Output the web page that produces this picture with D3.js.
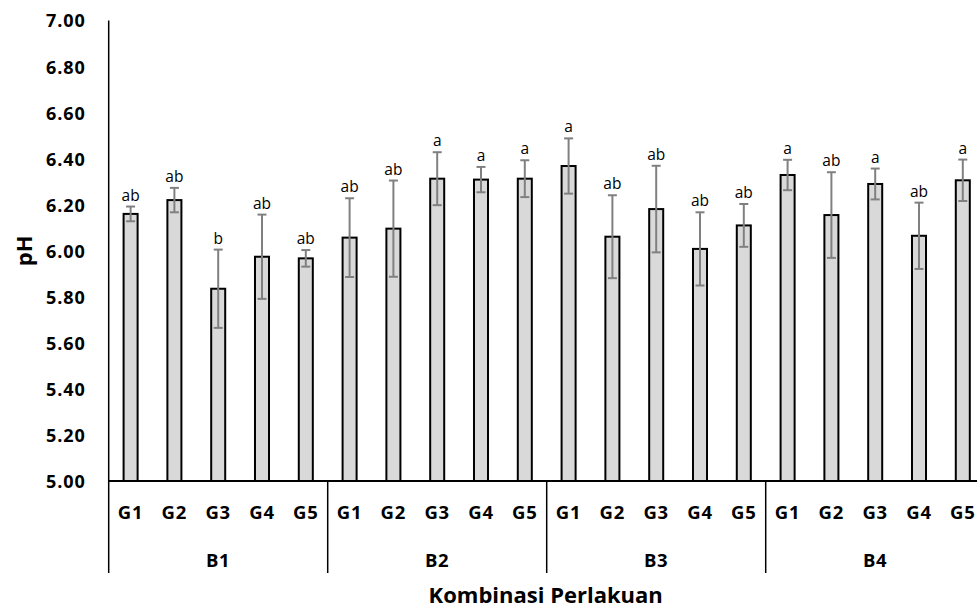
<!DOCTYPE html>
<html>
<head>
<meta charset="utf-8">
<script src="https://cdn.jsdelivr.net/npm/d3@7"></script>
<style>
  html, body { margin: 0; padding: 0; background: #fff; }
  svg { display: block; }
  text { font-family: "Open Sans", "Noto Sans", sans-serif; fill: #000; }
</style>
</head>
<body>
<svg id="chart" width="977" height="608"></svg>
<script>
// ---- data ----
const groups = ["B1", "B2", "B3", "B4"];
const treatments = ["G1", "G2", "G3", "G4", "G5"];
const means = [
  6.160, 6.220, 5.835, 5.974, 5.967,
  6.057, 6.096, 6.313, 6.309, 6.313,
  6.368, 6.061, 6.181, 6.008, 6.110,
  6.329, 6.155, 6.290, 6.065, 6.306
];
const errors = [
  0.032, 0.053, 0.170, 0.183, 0.036,
  0.171, 0.209, 0.115, 0.055, 0.080,
  0.120, 0.180, 0.188, 0.159, 0.093,
  0.066, 0.186, 0.067, 0.144, 0.090
];
const letters = [
  "ab", "ab", "b", "ab", "ab",
  "ab", "ab", "a", "a", "a",
  "a", "ab", "ab", "ab", "ab",
  "a", "ab", "a", "ab", "a"
];
const yTicks = [5.0, 5.2, 5.4, 5.6, 5.8, 6.0, 6.2, 6.4, 6.6, 6.8, 7.0];
const yTitle = "pH";
const xTitle = "Kombinasi Perlakuan";

(function () {
// ---- build records ----
const records = [];
groups.forEach((g, gi) => treatments.forEach((t, ti) => {
  const i = gi * treatments.length + ti;
  records.push({ key: g + "-" + t, group: g, treat: t, mean: means[i], err: errors[i], letter: letters[i] });
}));

const svg = d3.select("#chart");
const pLeft = 108.7, pRight = 984.7, pTop = 20.5, base = 481, bottomLine = 573;

const x = d3.scaleBand().domain(records.map(d => d.key)).range([pLeft, pRight])
  .paddingInner(0.68).paddingOuter(0.34);
const y = d3.scaleLinear().domain([5, 7]).range([base, pTop]);

// y axis
const yAxis = d3.axisLeft(y).tickValues(yTicks).tickSize(0).tickPadding(23).tickFormat(d3.format(".2f"));
const yg = svg.append("g").attr("transform", `translate(${pLeft},0)`).call(yAxis);
yg.select(".domain").remove();
yg.selectAll("text").style("font-size", "18px").style("font-weight", "bold")
  .style("letter-spacing", "0.9px")
  .attr("font-family", "Open Sans").attr("dy", "0.36em");
svg.append("line").attr("x1", pLeft).attr("x2", pLeft).attr("y1", pTop).attr("y2", bottomLine)
  .attr("stroke", "#000").attr("stroke-width", 1.5);

// bars
svg.append("g").selectAll("rect").data(records).join("rect")
  .attr("x", d => x(d.key)).attr("width", x.bandwidth())
  .attr("y", d => y(d.mean)).attr("height", d => base - y(d.mean))
  .attr("fill", "#d9d9d9").attr("stroke", "#000").attr("stroke-width", 2);

// error bars
const eb = svg.append("g").attr("stroke", "#808080").attr("stroke-width", 2);
records.forEach(d => {
  const cx = x(d.key) + x.bandwidth() / 2;
  const y1 = y(d.mean + d.err), y0 = y(d.mean - d.err);
  eb.append("line").attr("x1", cx).attr("x2", cx).attr("y1", y1).attr("y2", y0);
  eb.append("line").attr("x1", cx - 4.5).attr("x2", cx + 4.5).attr("y1", y1).attr("y2", y1);
  eb.append("line").attr("x1", cx - 4.5).attr("x2", cx + 4.5).attr("y1", y0).attr("y2", y0);
});

// significance letters
svg.append("g").selectAll("text").data(records).join("text")
  .attr("x", d => x(d.key) + x.bandwidth() / 2)
  .attr("y", d => y(d.mean + d.err) - 6)
  .attr("text-anchor", "middle").style("font-size", "15.5px")
  .text(d => d.letter);

// x baseline
svg.append("line").attr("x1", pLeft).attr("x2", pRight).attr("y1", base).attr("y2", base)
  .attr("stroke", "#000").attr("stroke-width", 2);

// group separators
const step = x.step();
groups.forEach((g, gi) => {
  if (gi > 0) {
    const sx = pLeft + gi * treatments.length * step;
    svg.append("line").attr("x1", sx).attr("x2", sx).attr("y1", base).attr("y2", bottomLine)
      .attr("stroke", "#000").attr("stroke-width", 1.5);
  }
});

// treatment labels
svg.append("g").selectAll("text").data(records).join("text")
  .attr("x", d => x(d.key) + x.bandwidth() / 2).attr("y", 519)
  .attr("text-anchor", "middle").style("font-size", "18.5px").style("font-weight", "bold")
  .style("letter-spacing", "0.8px")
  .text(d => d.treat);

// group labels
svg.append("g").selectAll("text").data(groups).join("text")
  .attr("x", (g, gi) => pLeft + (gi + 0.5) * treatments.length * step).attr("y", 567)
  .attr("text-anchor", "middle").style("font-size", "18.5px").style("font-weight", "bold")
  .style("letter-spacing", "0.8px")
  .text(g => g);

// axis titles
svg.append("text").attr("x", (pLeft + pRight) / 2 - 1).attr("y", 603)
  .attr("text-anchor", "middle").style("font-size", "22px").style("font-weight", "bold")
  .text(xTitle);
svg.append("text").attr("transform", `translate(32,${(pTop + base) / 2}) rotate(-90)`)
  .attr("text-anchor", "middle").style("font-size", "22px").style("font-weight", "bold")
  .text(yTitle);
})();
</script>
</body>
</html>
